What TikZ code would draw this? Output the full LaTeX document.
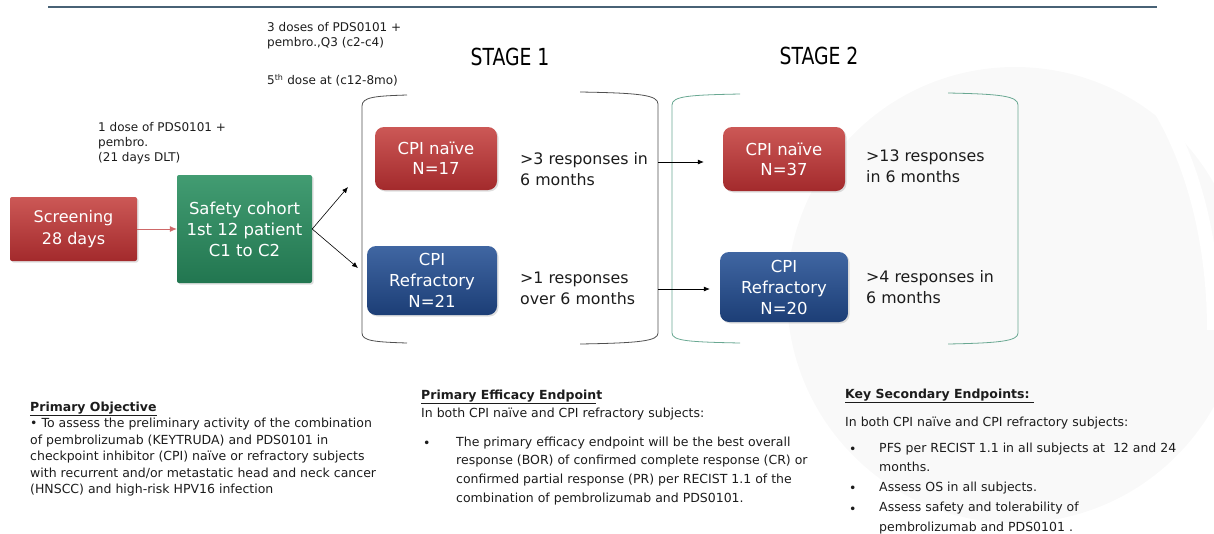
\documentclass[tikz,border=0pt]{standalone}
\usepackage{fontspec}
\setmainfont{DejaVu Sans}
\usetikzlibrary{arrows.meta,shadows}

\definecolor{rulecol}{RGB}{72,98,118}
\definecolor{redtop}{RGB}{204,88,86}
\definecolor{redbot}{RGB}{163,42,44}
\definecolor{greentop}{RGB}{66,156,114}
\definecolor{greenbot}{RGB}{34,118,80}
\definecolor{bluetop}{RGB}{64,102,162}
\definecolor{bluebot}{RGB}{28,62,118}
\definecolor{stageone}{RGB}{80,80,80}
\definecolor{stagetwo}{RGB}{105,168,146}
\definecolor{txt}{RGB}{28,28,28}
\definecolor{scrarrow}{RGB}{206,104,104}

\tikzset{
  box/.style={text=white, align=center, inner sep=0pt,
    font=\fontsize{16.5}{21}\selectfont,
    drop shadow={opacity=0.25, shadow xshift=1.5pt, shadow yshift=-1.5pt}},
  redbox/.style={box, top color=redtop, bottom color=redbot},
  greenbox/.style={box, top color=greentop, bottom color=greenbot},
  bluebox/.style={box, top color=bluetop, bottom color=bluebot},
  resp/.style={anchor=west, align=left, inner sep=0pt, text=txt,
    font=\fontsize{15.8}{21}\selectfont},
  note/.style={anchor=north west, align=left, inner sep=0pt, text=txt},
  dot/.style={anchor=base west, inner sep=0pt, text=txt, font=\fontsize{12.5}{15}\selectfont},
  arr/.style={-{Latex[length=6pt,width=5pt]}, line width=0.6pt, black}
}

\begin{document}
\begin{tikzpicture}[x=1pt, y=-1pt, font=\fontsize{12}{15}\selectfont]
  \useasboundingbox (0,0) rectangle (1214,533);

  % faint logo in the back
  \fill[gray!5] (1015,295) circle[radius=228];
  \draw[white, line width=14pt] (1120,55) .. controls (1200,140) and (1214,260) .. (1214,330);
  \fill[white] (1214,533) circle[radius=75];

  \draw[rulecol, line width=1.5pt] (48,7) -- (1157,7);

  % dosing notes
  \node[note] (dose3) at (267,22.4) {\fontsize{12}{18}\selectfont 3 doses of PDS0101 +\\pembro.,Q3 (c2-c4)};
  \node[anchor=base west, inner sep=0pt, text=txt] (dose5) at (267,84.5) {5\textsuperscript{th} dose at (c12-8mo)};
  \node[note] (dose1) at (98,121.9) {1 dose of PDS0101 +\\pembro.\\(21 days DLT)};

  \node (st1) at (510,56.5) {\scalebox{0.8}[1]{\fontsize{23.5}{24}\selectfont STAGE 1}};
  \node (st2) at (819,55.5) {\scalebox{0.8}[1]{\fontsize{23.5}{24}\selectfont STAGE 2}};

  % boxes
  \node[redbox, rounded corners=2pt, minimum width=127pt, minimum height=64pt,
        font=\fontsize{16}{22}\selectfont] (scr) at (73.5,229) {Screening\\28 days};
  \node[greenbox, rounded corners=2pt, minimum width=135pt, minimum height=108pt] (safe) at (244.5,229) {Safety cohort\\1st 12 patient\\C1 to C2};

  \node[redbox, rounded corners=9pt, minimum width=122pt, minimum height=63pt,
        font=\fontsize{16.5}{20}\selectfont] (naive1) at (436,158.5) {CPI naïve\\N=17};
  \node[bluebox, rounded corners=9pt, minimum width=130pt, minimum height=69pt] (refr1) at (432,280.5) {CPI\\Refractory\\N=21};
  \node[redbox, rounded corners=9pt, minimum width=122pt, minimum height=64pt,
        font=\fontsize{16.5}{20}\selectfont] (naive2) at (784,159) {CPI naïve\\N=37};
  \node[bluebox, rounded corners=9pt, minimum width=128pt, minimum height=70pt] (refr2) at (784,287) {CPI\\Refractory\\N=20};

  \node[resp] (resp1) at (520,169.5) {>3 responses in\\6 months};
  \node[resp] (resp2) at (520,288) {>1 responses\\over 6 months};
  \node[resp] (resp3) at (866,166) {>13 responses\\in 6 months};
  \node[resp] (resp4) at (866,287.5) {>4 responses in\\6 months};

  % brackets
  \draw[stageone, line width=0.8pt] (407,95) .. controls (375,96) and (362,97) .. (362,106) -- (362,333)
        .. controls (362,341) and (375,342) .. (407,343);
  \draw[stageone, line width=0.8pt] (580,92) .. controls (640,93) and (658,95) .. (658,104) -- (658,333)
        .. controls (658,341) and (640,343) .. (580,344);
  \draw[stagetwo, line width=0.8pt] (740,94) .. controls (690,95) and (672,96) .. (672,105) -- (672,333)
        .. controls (672,341) and (690,342) .. (740,343);
  \draw[stagetwo, line width=0.8pt] (948,93) .. controls (1000,94) and (1018,96) .. (1018,105) -- (1018,333)
        .. controls (1018,341) and (1000,343) .. (948,344);

  \coordinate (up) at (348,187);
  \coordinate (dn) at (358,268);
  \coordinate (b1n) at (658,162);
  \coordinate (b1r) at (658,289);

  % arrows
  \draw[-{Latex[length=7pt,width=6pt]}, scrarrow, line width=0.8pt] (scr.east) -- (safe.west);
  \draw[arr] (safe.east) -- (up);
  \draw[arr] (safe.east) -- (dn);
  \draw[arr, shorten >=19pt] (b1n) -- (b1n -| naive2.west);
  \draw[arr, shorten >=10pt] (b1r) -- (b1r -| refr2.west);

  % objectives and endpoints
  \node[note, font=\fontsize{12.5}{16.5}\selectfont] (obj) at (30,401.5)
    {\textbf{\underline{Primary Objective}}\\
     • To assess the preliminary activity of the combination\\
     of pembrolizumab (KEYTRUDA) and PDS0101 in\\
     checkpoint inhibitor (CPI) naïve or refractory subjects\\
     with recurrent and/or metastatic head and neck cancer\\
     (HNSCC) and high-risk HPV16 infection};

  \node[note, font=\fontsize{12.5}{18}\selectfont] (eff) at (421,389.5)
    {\textbf{\underline{Primary Efficacy Endpoin}t}\\
     In both CPI naïve and CPI refractory subjects:};
  \node[dot] (effb) at (423,447) {•};
  \node[note, font=\fontsize{12.5}{18.7}\selectfont] (efft) at (456,436.5)
    {The primary efficacy endpoint will be the best overall\\
     response (BOR) of confirmed complete response (CR) or\\
     confirmed partial response (PR) per RECIST 1.1 of the\\
     combination of pembrolizumab and PDS0101.};

  \node[note, font=\fontsize{12.5}{18}\selectfont] (sec) at (845,388.5)
    {\textbf{\underline{Key Secondary Endpoints:\ }}\\[10pt]
     In both CPI naïve and CPI refractory subjects:};
  \node[dot] (secb1) at (849,453) {•};
  \node[dot] (secb2) at (849,492) {•};
  \node[dot] (secb3) at (849,513) {•};
  \node[note, font=\fontsize{12.5}{19.7}\selectfont] (sect) at (879,442.5)
    {PFS per RECIST 1.1 in all subjects at\ \ 12 and 24\\
     months.\\
     Assess OS in all subjects.\\
     Assess safety and tolerability of\\
     pembrolizumab and PDS0101 .};
\end{tikzpicture}
\end{document}
